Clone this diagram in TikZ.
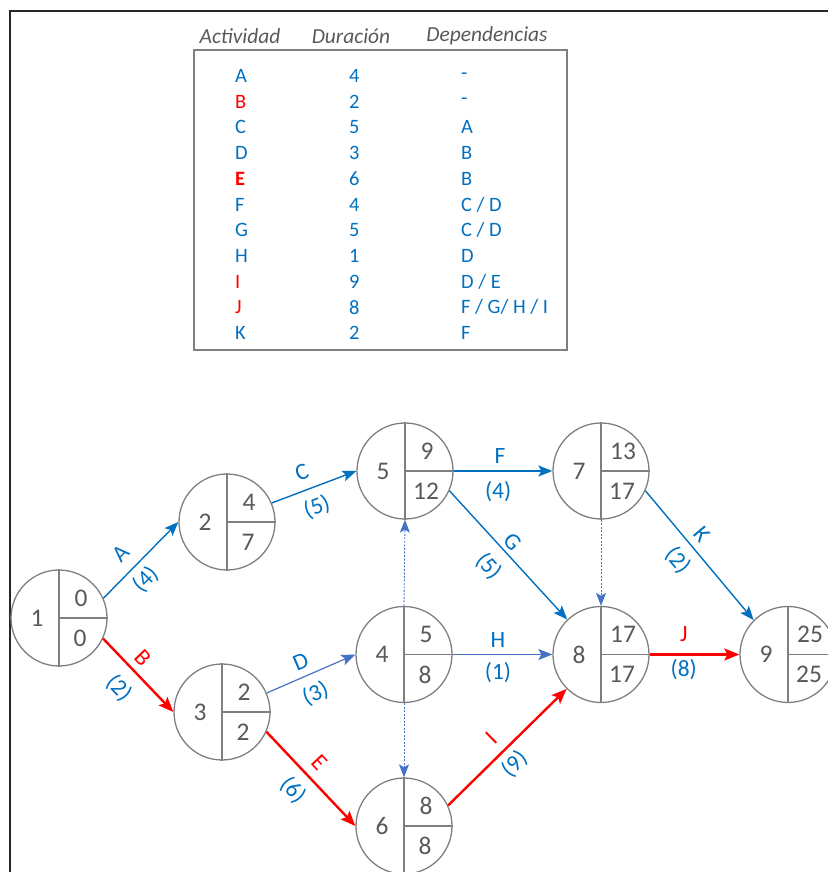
\documentclass[tikz,border=0pt]{standalone}
\usepackage{fontspec}
\setmainfont{Carlito}
\usetikzlibrary{arrows.meta,calc}
\definecolor{cblue}{HTML}{0070C0}
\definecolor{sblue}{HTML}{4472C4}
\definecolor{cred}{HTML}{FF0000}
\definecolor{cgray}{HTML}{7F7F7F}
\definecolor{tgray}{HTML}{595959}
\tikzset{
  evt/.style={circle, draw=cgray, line width=1.3bp, minimum size=96bp, inner sep=0pt},
  evline/.style={draw=cgray, line width=1.3bp},
  evtxt/.style={text=tgray, font=\fontsize{25.5}{30}\selectfont, inner sep=0pt},
  act/.style={draw=cblue, line width=1.4bp, -{Stealth[length=14bp,width=11bp,inset=3bp]}},
  actb/.style={draw=sblue, line width=1.2bp, -{Stealth[length=14bp,width=11bp,inset=3bp]}},
  crit/.style={draw=cred, line width=2.4bp, -{Stealth[length=15bp,width=12bp,inset=3bp]}},
  dum/.style={draw=sblue, line width=0.9bp, dash pattern=on 2bp off 1.5bp, -{Stealth[length=13bp,width=10bp,inset=3bp]}},
  lab/.style={text=cblue, font=\fontsize{23.5}{28}\selectfont, sloped, inner sep=0pt},
  labr/.style={lab, text=cred},
  hdr/.style={text=tgray, font=\fontsize{21.5}{26}\selectfont\itshape, inner sep=0pt},
  cell/.style={text=cblue, font=\fontsize{20.5}{25}\selectfont, inner sep=0pt, anchor=west},
  cellr/.style={cell, text=cred},
}
\newcommand\pertnode[5]{%
  \node[evt] (#1) at (#2) {};
  \draw[evline] (#1.north) -- (#1.south);
  \draw[evline] (#1.center) -- (#1.east);
  \node[evtxt] (#1-id) at ($(#1)+(-22,0)$) {#3};
  \node[evtxt] (#1-es) at ($(#1)+(22,20)$) {#4};
  \node[evtxt] (#1-ls) at ($(#1)+(21,-20)$) {#5};
}
\begin{document}
\begin{tikzpicture}[x=1bp,y=1bp]
\useasboundingbox (0,0) rectangle (828,872);
% outer frame
\draw[line width=2bp, black!85] (10,-10) -- (10,861) -- (840,861);
% table
\node[hdr] (h1) at (240,836) {Actividad};
\node[hdr] (h2) at (351,836) {Duración};
\node[hdr] (h3) at (487,836) {Dependencias};
\draw[draw=cgray, line width=1.3bp] (194,822) rectangle (567,522);
\foreach \a/\d/\p/\st [count=\i from 0] in {A/4/-/cell, B/2/-/cellr, C/5/A/cell, D/3/B/cell, {\bfseries E}/6/B/cellr, F/4/{C / D}/cell, G/5/{C / D}/cell, H/1/D/cell, I/9/{D / E}/cellr, J/8/{F / G/ H / I}/cellr, K/2/F/cell}{
  \node[\st] (ta\i) at (235,796-25.7*\i) {\a};
  \node[cell] (td\i) at (349,796-25.7*\i) {\d};
  \node[cell] (tp\i) at (461,796-25.7*\i) {\p};
}
% events
\pertnode{n1}{59,254}{1}{0}{0}
\pertnode{n2}{227,350}{2}{4}{7}
\pertnode{n3}{222,160}{3}{2}{2}
\pertnode{n4}{404,217.5}{4}{5}{8}
\pertnode{n5}{405,401}{5}{9}{12}
\pertnode{n6}{404,46}{6}{8}{8}
\pertnode{n7}{601,401}{7}{13}{17}
\pertnode{n8}{601,217.5}{8}{17}{17}
\pertnode{n9}{788,217.5}{9}{25}{25}
% activities
\draw[act] (n1.24) -- node[lab,pos=0.41,yshift=19bp]{A} node[lab,pos=0.40,yshift=-17bp]{(4)} (n2.west);
\draw[act] (n2.23) -- node[lab,pos=0.43,yshift=18bp]{C} node[lab,pos=0.45,yshift=-20bp]{(5)} (n5.west);
\draw[crit] (n1.-25) -- node[labr,pos=0.41,yshift=15bp]{B} node[lab,pos=0.46,yshift=-23bp]{(2)} (n3.west);
\draw[actb] (n3.23) -- node[lab,pos=0.45,yshift=15bp]{D} node[lab,pos=0.46,yshift=-20bp]{(3)} (n4.west);
\draw[crit] (n3.-24) -- node[labr,pos=0.455,yshift=17bp]{E} node[lab,pos=0.47,yshift=-21bp]{(6)} (n6.west);
\draw[crit] (n6.25) -- node[labr,pos=0.47,yshift=18bp]{I} node[lab,pos=0.46,yshift=-17bp]{(9)} (n8.225);
\draw[actb] (n4.east) -- node[lab,pos=0.455,yshift=15bp]{H} node[lab,pos=0.455,yshift=-18bp]{(1)} (n8.west);
\draw[act] (n5.east) -- node[lab,pos=0.47,yshift=15bp]{F} node[lab,pos=0.45,yshift=-21bp]{(4)} (n7.west);
\draw[act] (n5.-24) -- node[lab,pos=0.46,yshift=12bp]{G} node[lab,pos=0.47,yshift=-22bp]{(5)} (n8.134);
\draw[act] (n7.-24) -- node[lab,pos=0.415,yshift=15bp]{K} node[lab,pos=0.44,yshift=-20bp]{(2)} (n9.135);
\draw[crit] (n8.east) -- node[labr,pos=0.38,yshift=20bp]{J} node[lab,pos=0.38,yshift=-15bp]{(8)} (n9.west);
% dummies
\draw[dum] (n4.north) -- (n5.south);
\draw[dum] (n4.south) -- (n6.north);
\draw[dum] (n7.south) -- (n8.north);
\end{tikzpicture}
\end{document}
